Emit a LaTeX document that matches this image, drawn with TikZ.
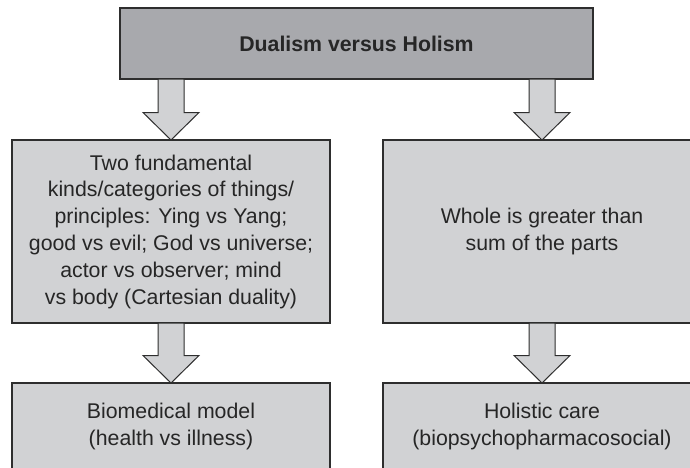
\documentclass[tikz,border=0pt]{standalone}
\usepackage{fontspec}
\setmainfont{Liberation Sans}
\usetikzlibrary{calc}
\definecolor{darkfill}{HTML}{A8A9AD}
\definecolor{lightfill}{HTML}{D1D2D4}
\definecolor{edge}{HTML}{2E2E2E}
\tikzset{
  box/.style={draw=edge, line width=1.3pt, rectangle, inner sep=0pt, outer sep=0pt,
    align=center, font=\fontsize{21.3}{26.8}\selectfont, text=black!85},
  topbox/.style={box, fill=darkfill, line width=1.8pt, minimum width=473pt, minimum height=71pt,
    font=\fontsize{21.3}{26.8}\selectfont\bfseries},
  midbox/.style={box, fill=lightfill, minimum width=318pt, minimum height=183pt},
  lowbox/.style={box, fill=lightfill, minimum width=318pt, minimum height=87pt},
  blockarrow/.style={draw=edge, line width=1pt, fill=lightfill, line join=miter}
}
\newcommand{\blockarr}[2]{%
  \draw[blockarrow] let \p1=(#2.north), \p2=(#1.south) in
    (\x1-13pt,\y2) -- (\x1+13pt,\y2) -- (\x1+13pt,\y1+27.5pt) -- (\x1+28pt,\y1+27.5pt)
    -- (\x1,\y1) -- (\x1-28pt,\y1+27.5pt) -- (\x1-13pt,\y1+27.5pt) -- cycle;}
\begin{document}
\begin{tikzpicture}[x=1pt,y=-1pt]
\useasboundingbox (0,0) rectangle (690,467);
\clip (0,0) rectangle (690,467);
\fill[white] (0,0) rectangle (690,467);
\node[topbox] (top) at (356.5,43.5) {Dualism versus Holism};
\node[midbox] (dual) at (171,231.5) {Two fundamental\\kinds/categories of things/\\principles: Ying vs Yang;\\good vs evil; God vs universe;\\actor vs observer; mind\\vs body (Cartesian duality)};
\node[midbox] (whole) at (542,231.5) {Whole is greater than\\sum of the parts};
\node[lowbox] (bio) at (171,426.5) {Biomedical model\\(health vs illness)};
\node[lowbox] (hol) at (542,426.5) {Holistic care\\(biopsychopharmacosocial)};
\blockarr{top}{dual}
\blockarr{top}{whole}
\blockarr{dual}{bio}
\blockarr{whole}{hol}
\end{tikzpicture}
\end{document}
